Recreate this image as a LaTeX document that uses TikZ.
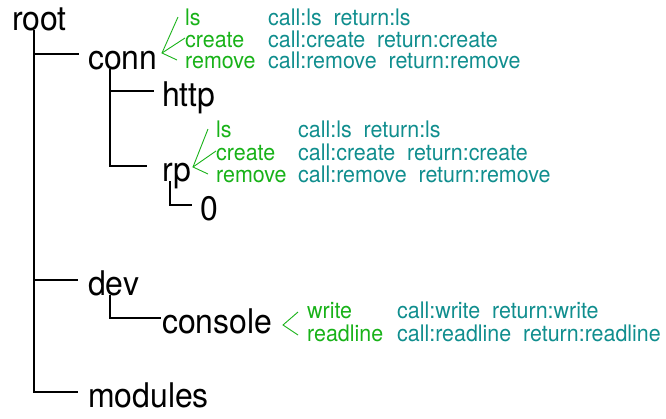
\documentclass[tikz,border=0pt]{standalone}
\usepackage{fontspec}
\setmainfont{TeX Gyre Heros}[FakeStretch=0.94]
\usepackage{tikz}
\definecolor{opgreen}{RGB}{24,178,24}
\definecolor{callteal}{RGB}{16,142,142}

\begin{document}
\begin{tikzpicture}
	[x=1pt,y=-1pt,every node/.style={anchor=base west, inner sep=0pt}]
	\tikzstyle{dir} = [font=\fontsize{34}{38}\selectfont, text height=30pt, text depth=0pt];
	\tikzstyle{op} = [font=\fontsize{22.8}{25}\selectfont, text=opgreen, text height=16pt, text depth=0pt];
	\tikzstyle{call} = [font=\fontsize{22.8}{25}\selectfont, text=callteal];
	\tikzstyle{edges} = [line width=1.1pt];
	\tikzstyle{fork} = [opgreen, line width=0.9pt];

	\useasboundingbox (0,0) rectangle (666,418);

	% tree
	\node[dir] (root) at (12,30) {root};
	\node[dir] (conn) at (88,69) {conn};
	\node[dir] (http) at (162,106) {http};
	\node[dir] (rp) at (162,181) {rp};
	\node[dir] (zero) at (200,220) {0};
	\node[dir] (dev) at (88,295) {dev};
	\node[dir] (console) at (162,333) {console};
	\node[dir] (modules) at (88,407) {modules};

	\draw[edges] ([xshift=22pt]root.south west) |- ([xshift=-9pt]conn.west);
	\draw[edges] ([xshift=22pt]root.south west) |- ([xshift=-10pt]dev.west);
	\draw[edges] ([xshift=22pt]root.south west) |- ([xshift=-10pt]modules.west);
	\draw[edges] ([xshift=22pt]conn.south west) |- ([xshift=-8pt]http.west);
	\draw[edges] ([xshift=22pt]conn.south west) |- ([xshift=-15pt]rp.west);
	\draw[edges] ([xshift=8pt]rp.south west) |- ([xshift=-8pt]zero.west);
	\draw[edges] ([xshift=22pt]dev.south west) |- ([xshift=-1pt]console.west);

	% conn
	\coordinate (connfork) at (162,53);
	\node[op] (connls) at (185,25) {ls};
	\node[op] (conncreate) at (185,47) {create};
	\node[op] (connremove) at (185,68) {remove};
	\node[call] (connlscall) at (268,25) {call:ls\ \ return:ls};
	\node[call] (conncreatecall) at (268,47) {call:create\ \ return:create};
	\node[call] (connremovecall) at (268,68) {call:remove\ \ return:remove};
	\draw[fork] ([xshift=-7pt]connls.west) -- (connfork) -- ([xshift=-8pt]connremove.west);
	\draw[fork] (connfork) -- ([yshift=1pt]conncreate.west);

	% rp
	\coordinate (rpfork) at (193,167);
	\node[op] (rpls) at (216,137) {ls};
	\node[op] (rpcreate) at (216,160) {create};
	\node[op] (rpremove) at (216,182) {remove};
	\node[call] (rplscall) at (298,137) {call:ls\ \ return:ls};
	\node[call] (rpcreatecall) at (298,160) {call:create\ \ return:create};
	\node[call] (rpremovecall) at (298,182) {call:remove\ \ return:remove};
	\draw[fork] ([xshift=-8pt]rpls.west) -- (rpfork) -- ([xshift=-8pt]rpremove.west);
	\draw[fork] (rpfork) -- ([yshift=1pt]rpcreate.west);

	% console
	\coordinate (consolefork) at (283,325);
	\node[op] (conwrite) at (307,318) {write};
	\node[op] (conreadline) at (307,341) {readline};
	\node[call] (conwritecall) at (397,318) {call:write\ \ return:write};
	\node[call] (conreadlinecall) at (397,341) {call:readline\ \ return:readline};
	\draw[fork] ([xshift=-9pt,yshift=-2pt]conwrite.west) -- (consolefork) -- ([xshift=-9pt,yshift=-2pt]conreadline.west);
\end{tikzpicture}
\end{document}
